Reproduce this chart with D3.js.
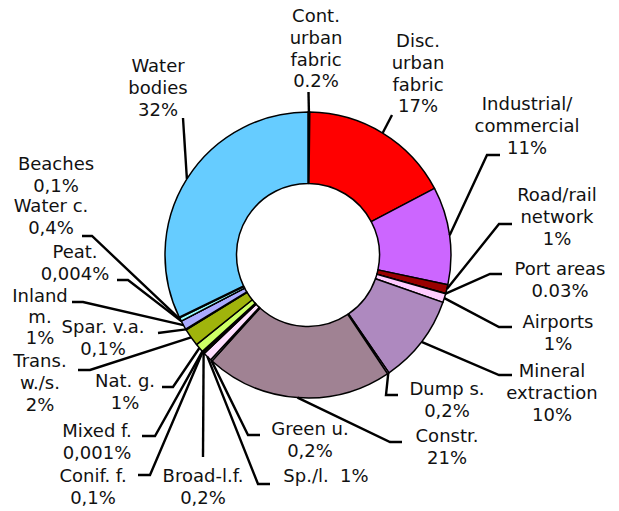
<!DOCTYPE html>
<html>
<head>
<meta charset="utf-8">
<script src="https://cdn.jsdelivr.net/npm/d3@7/dist/d3.min.js"></script>
<style>
  html, body { margin: 0; padding: 0; background: #fff; }
  svg { display: block; }
  text { font-family: "DejaVu Sans", Verdana, sans-serif; font-size: 18px; fill: #111; }
</style>
</head>
<body>
<svg id="chart" width="619" height="511"></svg>
<script>
// land cover categories, clockwise from 12 o'clock
const categories = [
  "Cont.\nurban\nfabric", "Disc.\nurban\nfabric", "Industrial/\ncommercial", "Road/rail\nnetwork",
  "Port areas", "Airports", "Mineral\nextraction", "Dump s.", "Constr.", "Green u.", "Sp./l.",
  "Broad-l.f.", "Conif. f.", "Mixed f.", "Nat. g.", "Trans.\nw./s.", "Spar. v.a.", "Inland\nm.",
  "Peat.", "Water c.", "Beaches", "Water\nbodies"
];
const values = [0.2, 17, 11, 1, 0.03, 1, 10, 0.2, 21, 0.2, 1, 0.2, 0.1, 0.001, 1, 2, 0.1, 1, 0.004, 0.4, 0.1, 32];
const valueLabels = [
  "0.2%", "17%", "11%", "1%", "0.03%", "1%", "10%", "0,2%", "21%", "0,2%", "1%",
  "0,2%", "0,1%", "0,001%", "1%", "2%", "0,1%", "1%", "0,004%", "0,4%", "0,1%", "32%"
];
const colors = [
  "#800000", "#ff0000", "#cc66ff", "#990000", "#ffe0e0", "#ffccff", "#ae89bf", "#cc99cc",
  "#a08293", "#ffffff", "#ffe0ff", "#99cc00", "#339966", "#ccffcc", "#ccff66", "#a0b40c",
  "#ffffcc", "#aaaaff", "#3366ff", "#99ffff", "#ffffcc", "#66ccff"
];

// label placement: text centre x, first baseline y, leader bend points (after arc point)
const labelLayout = [
  { x: 316, y: 22, pts: [[308.5, 92]] },
  { x: 418, y: 47, pts: [[392, 115]] },
  { x: 527, y: 110, pts: [[487, 155], [500, 155]] },
  { x: 557, y: 201, pts: [[499, 224], [512, 224]] },
  { x: 560, y: 275, pts: [[490, 274], [502, 274]] },
  { x: 558, y: 328, pts: [[499, 327], [512, 327]] },
  { x: 552, y: 377, pts: [[499, 375], [512, 375]] },
  { x: 447, y: 395, pts: [[386, 395], [398, 395]] },
  { x: 447, y: 442, pts: [[390, 442], [402, 442]] },
  { x: 310, y: 435, pts: [[248, 435], [260, 435]] },
  { x: 326, y: 482, pts: [[258, 484], [270, 484]], inline: true },
  { x: 203, y: 482, pts: [[203, 457]] },
  { x: 93, y: 482, pts: [[150, 475], [138, 475]] },
  { x: 97, y: 437, pts: [[155, 436], [142, 436]] },
  { x: 125, y: 387, pts: [[173, 387], [162, 387]] },
  { x: 40, y: 367, pts: [[90, 370], [78, 370]] },
  { x: 103, y: 333, pts: [[158, 333]] },
  { x: 40, y: 302, pts: [[83, 302], [72, 302]] },
  { x: 75, y: 258, pts: [[128, 280], [117, 280]] },
  { x: 51, y: 212, pts: [[92, 236], [82, 236]] },
  { x: 56, y: 170, pts: null },
  { x: 158, y: 72, pts: [[183, 118]] }
];

const cx = 308, cy = 255, outerR = 143, innerR = 71.5, lineH = 21.8;

const data = categories.map((c, i) => ({ name: c, value: values[i], label: valueLabels[i], i }));

const svg = d3.select("#chart");
const g = svg.append("g").attr("transform", `translate(${cx},${cy})`);

const pie = d3.pie().sort(null).value(d => d.value);
const arcs = pie(data);
const arc = d3.arc().innerRadius(innerR).outerRadius(outerR);
const edge = d3.arc().innerRadius(outerR).outerRadius(outerR);

// leader lines first so slices cover their ends
const line = d3.line();
svg.append("g")
  .selectAll("path")
  .data(arcs.filter(d => labelLayout[d.data.i].pts))
  .join("path")
  .attr("d", d => {
    const [px, py] = edge.centroid(d);
    return line([[px + cx, py + cy], ...labelLayout[d.data.i].pts]);
  })
  .attr("fill", "none")
  .attr("stroke", "#000")
  .attr("stroke-width", 2.4);

g.selectAll("path")
  .data(arcs)
  .join("path")
  .attr("d", arc)
  .attr("fill", d => colors[d.data.i])
  .attr("stroke", "#000")
  .attr("stroke-width", 1.5)
  .attr("stroke-linejoin", "round");

const labels = svg.append("g")
  .selectAll("text")
  .data(data)
  .join("text")
  .attr("text-anchor", "middle")
  .attr("x", d => labelLayout[d.i].x)
  .attr("y", d => labelLayout[d.i].y);

labels.each(function (d) {
  const lay = labelLayout[d.i];
  const lines = d.name.split("\n");
  if (lay.inline) lines[lines.length - 1] += "  " + d.label;
  else lines.push(d.label);
  d3.select(this).selectAll("tspan")
    .data(lines)
    .join("tspan")
    .attr("x", lay.x)
    .attr("dy", (t, k) => (k === 0 ? 0 : (d.i === 17 ? 21.2 : lineH)))
    .attr("xml:space", "preserve")
    .text(t => t);
});
</script>
</body>
</html>
